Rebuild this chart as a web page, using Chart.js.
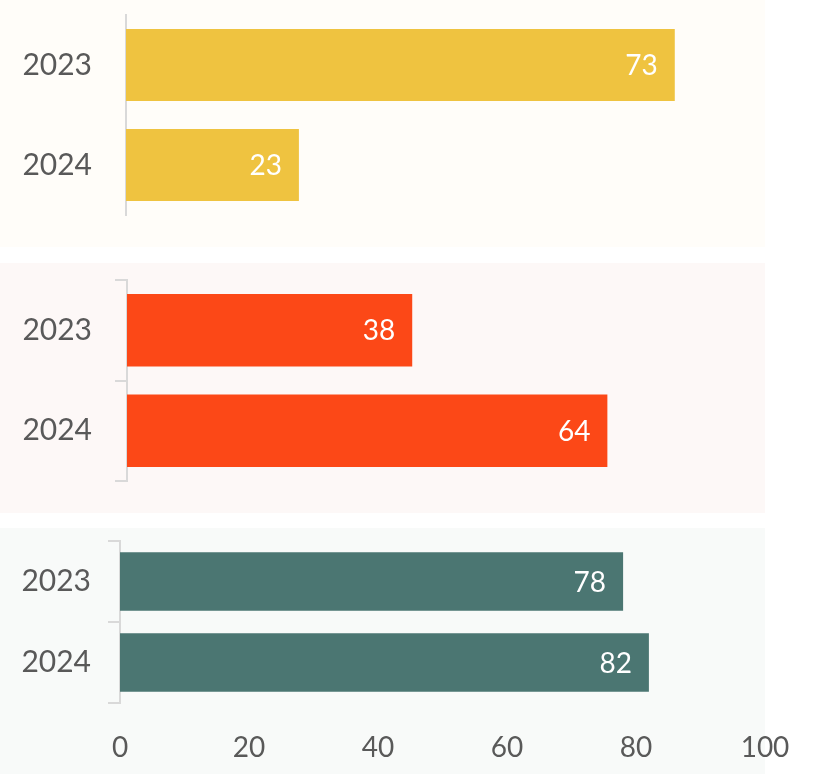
<!DOCTYPE html>
<html>
<head>
<meta charset="utf-8">
<script src="https://cdn.jsdelivr.net/npm/chart.js@4.4.1/dist/chart.umd.min.js"></script>
<style>
  html, body { margin: 0; padding: 0; background: #ffffff; }
  body { width: 815px; height: 774px; position: relative; overflow: hidden; }
  .panel { position: absolute; left: 0; width: 815px; }
</style>
</head>
<body>
<div class="panel" style="top:0px;height:247px"><canvas id="c1"></canvas></div>
<div class="panel" style="top:263px;height:250px"><canvas id="c2"></canvas></div>
<div class="panel" style="top:528px;height:246px"><canvas id="c3"></canvas></div>
<script>
// Categories and values for the three stacked panels
const years = ['2023', '2024'];
const valuesTop = [73, 23];
const valuesMiddle = [38, 64];
const valuesBottom = [78, 82];
const xTickValues = [0, 20, 40, 60, 80, 100];

const FONT = 'Lato, "Open Sans", sans-serif';
const TEXT = '#595959';
const AXIS = '#d9d9d9';

// Fills the panel background up to the right edge of the plot area
const panelBackground = {
  id: 'panelBackground',
  beforeDraw(chart, args, opts) {
    const { ctx, chartArea } = chart;
    ctx.save();
    ctx.fillStyle = opts.color;
    ctx.fillRect(0, 0, chartArea.right, chart.height);
    ctx.restore();
  }
};

// Writes each bar's value in white just inside its end
const barValues = {
  id: 'barValues',
  afterDatasetsDraw(chart) {
    const { ctx } = chart;
    chart.data.datasets.forEach((ds, di) => {
      chart.getDatasetMeta(di).data.forEach((bar, i) => {
        ctx.save();
        ctx.fillStyle = '#ffffff';
        ctx.font = '28px ' + FONT;
        ctx.textAlign = 'right';
        ctx.textBaseline = 'middle';
        ctx.fillText(String(ds.data[i]), bar.x - 17, bar.y + 1);
        ctx.restore();
      });
    });
  }
};

function makePanel(id, values, color, bg, o) {
  return new Chart(document.getElementById(id), {
    type: 'bar',
    data: {
      labels: years,
      datasets: [{
        data: values,
        backgroundColor: color,
        borderWidth: 0,
        barPercentage: 0.72,
        categoryPercentage: 1
      }]
    },
    options: {
      indexAxis: 'y',
      responsive: true,
      maintainAspectRatio: false,
      animation: false,
      layout: { padding: { top: o.top, bottom: o.bottom, right: 50, left: 0 } },
      plugins: {
        legend: { display: false },
        tooltip: { enabled: false },
        panelBackground: { color: bg }
      },
      scales: {
        x: {
          min: 0,
          max: o.max,
          display: o.showX,
          afterBuildTicks(scale) {
            scale.ticks = xTickValues.map(v => ({ value: v }));
          },
          afterFit(scale) {
            if (o.showX) scale.height = o.xHeight;
            scale.paddingLeft = 0;
            scale.paddingRight = 0;
          },
          grid: { display: false, drawTicks: false },
          border: { display: false },
          ticks: {
            padding: o.xPad || 0,
            color: TEXT,
            font: { family: FONT, size: 28 }
          }
        },
        y: {
          afterFit(scale) {
            scale.width = o.left;
            scale.paddingTop = 0;
            scale.paddingBottom = 0;
          },
          grid: {
            drawOnChartArea: false,
            drawTicks: o.ticks,
            tickLength: 12,
            color: AXIS,
            lineWidth: 2,
            offset: true
          },
          border: { display: true, color: AXIS, width: 2 },
          ticks: {
            padding: o.yPad,
            color: TEXT,
            font: { family: FONT, size: 30 }
          }
        }
      }
    },
    plugins: [panelBackground, barValues]
  });
}

makePanel('c1', valuesTop, '#EFC340', '#FFFDF9',
  { top: 15, bottom: 32, max: 85, showX: false, left: 126, ticks: false, yPad: 34 });
makePanel('c2', valuesMiddle, '#FC4817', '#FDF8F7',
  { top: 17, bottom: 32, max: 85, showX: false, left: 127, ticks: true, yPad: 23 });
makePanel('c3', valuesBottom, '#4B7672', '#F8FAF9',
  { top: 13, bottom: 0, max: 100, showX: true, xHeight: 71, xPad: 28, left: 120, ticks: true, yPad: 17 });
</script>
</body>
</html>
